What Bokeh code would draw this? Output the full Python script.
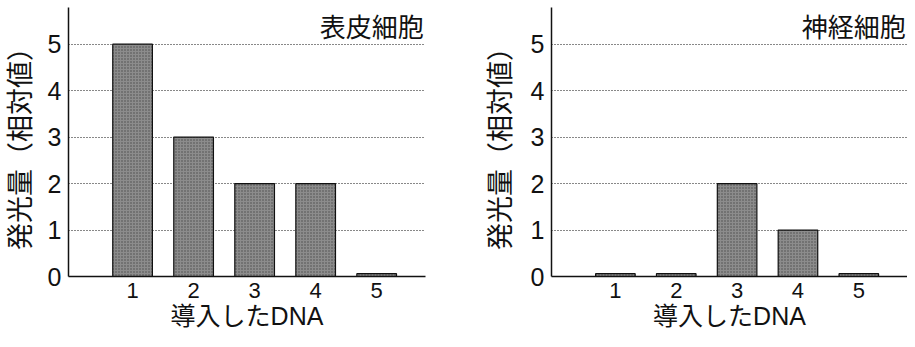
from bokeh.plotting import figure
from bokeh.layouts import row
from bokeh.models import Range1d, FixedTicker, Label
from bokeh.embed import file_html
from bokeh.resources import INLINE

dna = [1, 2, 3, 4, 5]
epidermal = [5, 3, 2, 2, 0.06]
neuron = [0.06, 0.06, 2, 1, 0.06]
y_ticks = [0, 1, 2, 3, 4, 5]
titles = ["表皮細胞", "神経細胞"]
x_label = "導入したDNA"
y_label = "発光量（相対値）"

FONT = "Liberation Sans, Noto Sans CJK JP"
CJK = "Noto Sans CJK JP"

X0, X1 = -0.05, 5.8
Y0, Y1 = 0, 5.79


def make(values, title, width, left, frame_w, ylab_standoff):
    p = figure(width=width, height=339, output_backend="svg", toolbar_location=None,
               x_range=Range1d(X0, X1), y_range=Range1d(Y0, Y1),
               min_border_left=left, min_border_right=width - left - frame_w,
               min_border_top=7, min_border_bottom=63)
    p.outline_line_color = None
    p.vbar(x=dna, top=values, width=0.65, bottom=0,
           fill_color="#8c8c8c", line_color="#111111", line_width=1.2,
           hatch_pattern="dot", hatch_color="#4a4a4a", hatch_scale=3, hatch_weight=1)
    p.xaxis.ticker = FixedTicker(ticks=dna)
    p.yaxis.ticker = FixedTicker(ticks=y_ticks)
    for ax in (p.xaxis[0], p.yaxis[0]):
        ax.major_tick_line_color = None
        ax.minor_tick_line_color = None
        ax.major_tick_out = 0
        ax.major_tick_in = 0
        ax.minor_tick_out = 0
        ax.minor_tick_in = 0
        ax.axis_line_color = "#111111"
        ax.axis_line_width = 1.5
        ax.major_label_text_font = FONT
        ax.axis_label_text_font = FONT
        ax.axis_label_text_font_style = "normal"
        ax.major_label_text_color = "#111111"
        ax.axis_label_text_color = "#111111"
    p.xaxis.major_label_text_font_size = "22px"
    p.yaxis.major_label_text_font_size = "25px"
    p.xaxis.axis_label = x_label
    p.yaxis.axis_label = y_label
    p.xaxis.axis_label_text_font_size = "25px"
    p.yaxis.axis_label_text_font_size = "27px"
    p.xaxis.major_label_standoff = 6
    p.xaxis.axis_label_standoff = 1
    p.yaxis.major_label_standoff = 7
    p.yaxis.axis_label_standoff = ylab_standoff
    p.xgrid.grid_line_color = None
    p.ygrid.grid_line_color = "#111111"
    p.ygrid.grid_line_dash = "1 2"
    p.ygrid.grid_line_width = 1.2
    p.add_layout(Label(x=X1 - 0.03, y=5.41, text=title, text_align="right",
                       text_baseline="middle", text_font=CJK,
                       text_font_size="26px", text_color="#111111"))
    return p


p1 = make(epidermal, titles[0], 453, 68, 357, 9)
p2 = make(neuron, titles[1], 454, 98, 356, 12)
layout = row(p1, p2)

open("out.html", "w").write(file_html(layout, INLINE))
